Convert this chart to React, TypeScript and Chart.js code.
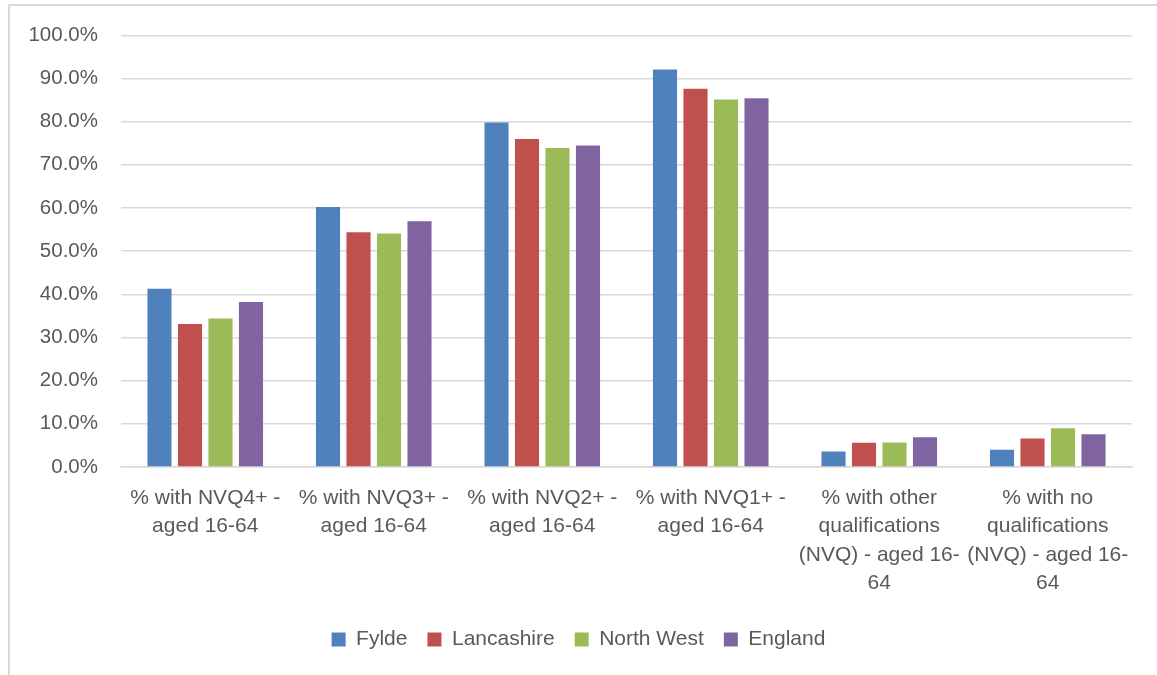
import React, { useEffect, useRef } from "react";
import { Chart, registerables } from "chart.js";

Chart.register(...registerables);

const categories: string[][] = [
  ["% with NVQ4+ -", "aged 16-64"],
  ["% with NVQ3+ -", "aged 16-64"],
  ["% with NVQ2+ -", "aged 16-64"],
  ["% with NVQ1+ -", "aged 16-64"],
  ["% with other", "qualifications", "(NVQ) - aged 16-", "64"],
  ["% with no", "qualifications", "(NVQ) - aged 16-", "64"],
];

const fylde = [41.3, 60.2, 79.8, 92.1, 3.6, 4.0];
const lancashire = [33.1, 54.4, 76.0, 87.6, 5.6, 6.6];
const northWest = [34.4, 54.1, 73.9, 85.1, 5.7, 9.0];
const england = [38.2, 56.9, 74.5, 85.4, 6.9, 7.6];

const seriesNames = ["Fylde", "Lancashire", "North West", "England"];
const seriesColors = ["#4F81BD", "#C0504D", "#9BBB59", "#8064A2"];

const FONT = "'Liberation Sans', Arial, sans-serif";
const TEXT = "#595959";

export default function App() {
  const ref = useRef<HTMLCanvasElement | null>(null);

  useEffect(() => {
    if (!ref.current) return;
    const values = [fylde, lancashire, northWest, england];
    const chart = new Chart(ref.current, {
      type: "bar",
      data: {
        labels: categories,
        datasets: values.map((v, i) => ({
          label: seriesNames[i],
          data: v,
          backgroundColor: seriesColors[i],
          borderWidth: 0,
          categoryPercentage: 0.724,
          barPercentage: 0.79,
        })),
      },
      options: {
        animation: false,
        responsive: false,
        maintainAspectRatio: false,
        layout: { padding: { top: 20, right: 25, bottom: 15, left: 25 } },
        plugins: {
          tooltip: { enabled: false },
          legend: {
            position: "bottom",
            labels: {
              boxWidth: 14,
              boxHeight: 14,
              padding: 20,
              color: TEXT,
              font: { family: FONT, size: 21 },
            },
          },
        },
        scales: {
          x: {
            grid: { display: false, drawTicks: false },
            border: { display: true, color: "#d9d9d9", width: 1.5 },
            ticks: {
              color: TEXT,
              font: { family: FONT, size: 21, lineHeight: 1.35 },
              padding: 17,
              maxRotation: 0,
              minRotation: 0,
              autoSkip: false,
            },
            afterFit: (scale: any) => {
              scale.height = 142;
            },
          },
          y: {
            min: 0,
            max: 100,
            grid: { color: "#d9d9d9", lineWidth: 1.5, drawTicks: false },
            border: { display: false },
            ticks: {
              stepSize: 10,
              color: TEXT,
              padding: 23,
              font: { family: FONT, size: 20.5 },
              callback: (v: any) => Number(v).toFixed(1) + "%",
            },
            afterFit: (scale: any) => {
              scale.width = 96;
            },
          },
        },
      },
    });
    return () => chart.destroy();
  }, []);

  return (
    <div
      style={{
        position: "fixed",
        left: 0,
        top: 0,
        width: 1157,
        height: 675,
        overflow: "hidden",
        background: "#fff",
      }}
    >
      <div
        style={{
          position: "absolute",
          left: 8,
          top: 4,
          width: 1200,
          height: 700,
          border: "2px solid #d9d9d9",
          boxSizing: "border-box",
        }}
      />
      <canvas
        ref={ref}
        width={1157}
        height={675}
        style={{ position: "absolute", left: 0, top: 0 }}
      />
    </div>
  );
}
